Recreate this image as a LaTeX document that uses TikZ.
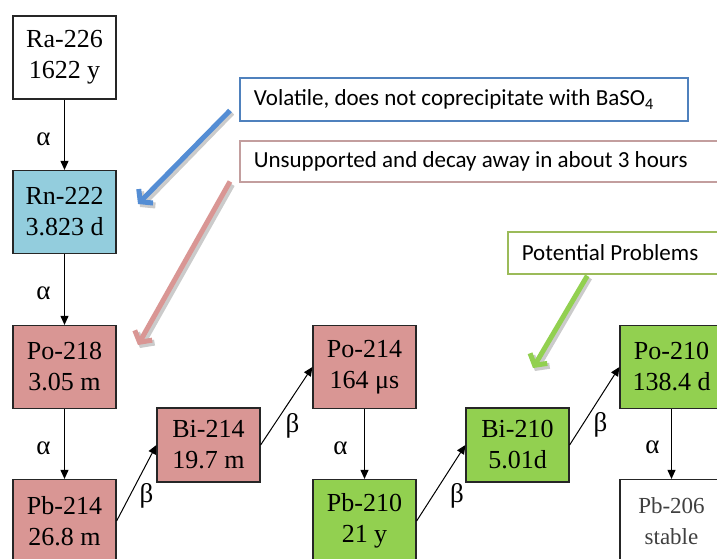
\documentclass[tikz,border=0pt]{standalone}
\usepackage{fontspec}
\setmainfont{Liberation Serif}
\newfontfamily\calib{Carlito}
\usetikzlibrary{arrows.meta}
\definecolor{rnblue}{RGB}{147,205,221}
\definecolor{popink}{RGB}{217,150,148}
\definecolor{pbgreen}{RGB}{146,208,80}
\definecolor{cblue}{RGB}{79,129,189}
\definecolor{cpink}{RGB}{195,158,158}
\definecolor{cgreen}{RGB}{155,187,89}
\definecolor{ablue}{RGB}{84,141,212}
\definecolor{apink}{RGB}{217,150,148}
\definecolor{agreen}{RGB}{146,208,80}
\tikzset{
  iso/.style={draw=black!85, line width=1.2pt, minimum width=103pt, align=center,
    font=\fontsize{26}{31}\selectfont, inner sep=0pt},
  tall/.style={minimum height=83pt},
  short/.style={minimum height=74pt},
  decay/.style={draw=black, line width=1pt, -{Triangle[length=9pt,width=8pt]}},
  lbl/.style={font=\fontsize{27}{31}\selectfont, inner sep=0pt},
  callout/.style={draw, line width=1.6pt, anchor=west, inner xsep=14pt, inner ysep=0pt,
    font=\calib\fontsize{23}{27}\selectfont, fill=white},
  bigarrow/.style={line width=5pt, -{Straight Barb[length=8pt,width=20pt]}},
  shadowarrow/.style={line width=6pt, draw=black!45, opacity=0.45, -{Straight Barb[length=8pt,width=20pt]}}
}
\begin{document}
\begin{tikzpicture}[x=1pt,y=-1pt]
\useasboundingbox (0,0) rectangle (717,559);
\clip (0,0) rectangle (717,559);
% isotope boxes
\node[iso,tall,fill=white] (ra) at (64.5,57.5) {Ra-226\\1622 y};
\node[iso,tall,fill=rnblue] (rn) at (64.5,212) {Rn-222\\3.823 d};
\node[iso,tall,fill=popink] (po218) at (64.5,367) {Po-218\\3.05 m};
\node[iso,tall,fill=popink] (pb214) at (64.5,521) {Pb-214\\26.8 m};
\node[iso,short,fill=popink] (bi214) at (208.5,445) {Bi-214\\19.7 m};
\node[iso,tall,fill=popink] (po214) at (364.5,367) {Po-214\\164 μs};
\node[iso,tall,fill=pbgreen] (pb210) at (364.5,521) {Pb-210\\21 y};
\node[iso,short,fill=pbgreen] (bi210) at (517.5,445) {Bi-210\\5.01d};
\node[iso,tall,fill=pbgreen] (po210) at (671.5,367) {Po-210\\138.4 d};
\node[iso,tall,fill=white,font=\fontsize{23}{31}\selectfont,text=black!75] (pb206) at (671.5,521) {Pb-206\\stable};
% decays
\draw[decay] (ra) -- (rn) node[lbl,midway,shift={(-21,5)}] {α};
\draw[decay] (rn) -- (po218) node[lbl,midway,shift={(-21,4)}] {α};
\draw[decay] (po218) -- (pb214) node[lbl,midway,shift={(-21,4)}] {α};
\draw[decay] (pb214.east) -- (bi214.west) node[lbl,midway,shift={(10,13)}] {β};
\draw[decay] (bi214.east) -- (po214.west) node[lbl,midway,shift={(6,20)}] {β};
\draw[decay] (po214) -- (pb210) node[lbl,midway,shift={(-24,4)}] {α};
\draw[decay] (pb210.east) -- (bi210.west) node[lbl,midway,shift={(16,13)}] {β};
\draw[decay] (bi210.east) -- (po210.west) node[lbl,midway,shift={(6,19)}] {β};
\draw[decay] (po210) -- (pb206) node[lbl,midway,shift={(-19,3)}] {α};
% callouts
\node[callout,draw=cblue,minimum width=448pt,minimum height=43pt] (vol) at (239,99.5)
  {\makebox[420pt][l]{Volatile, does not coprecipitate with BaSO\textsubscript{4}}};
\node[callout,draw=cpink,minimum width=483pt,minimum height=41pt] (uns) at (239,161.5)
  {\makebox[455pt][l]{Unsupported and decay away in about 3 hours}};
\node[callout,draw=cgreen,minimum width=215pt,minimum height=42pt] (pp) at (507,253)
  {\makebox[187pt][l]{Potential Problems}};
% pointer arrows
\coordinate (bt) at (138,204);
\coordinate (pt) at (138,345);
\coordinate (gt) at (533,368);
\draw[shadowarrow] ([shift={(-7,13)}]vol.west) -- ([shift={(2,3)}]bt);
\draw[bigarrow,draw=ablue] ([shift={(-9,11)}]vol.west) -- (bt);
\draw[shadowarrow] ([shift={(-7,23)}]uns.west) -- ([shift={(2,3)}]pt);
\draw[bigarrow,draw=apink] ([shift={(-9,20)}]uns.west) -- (pt);
\draw[shadowarrow] ([shift={(-26,3)}]pp.south) -- ([shift={(2,3)}]gt);
\draw[bigarrow,draw=agreen] ([shift={(-28,1)}]pp.south) -- (gt);
\end{tikzpicture}
\end{document}
